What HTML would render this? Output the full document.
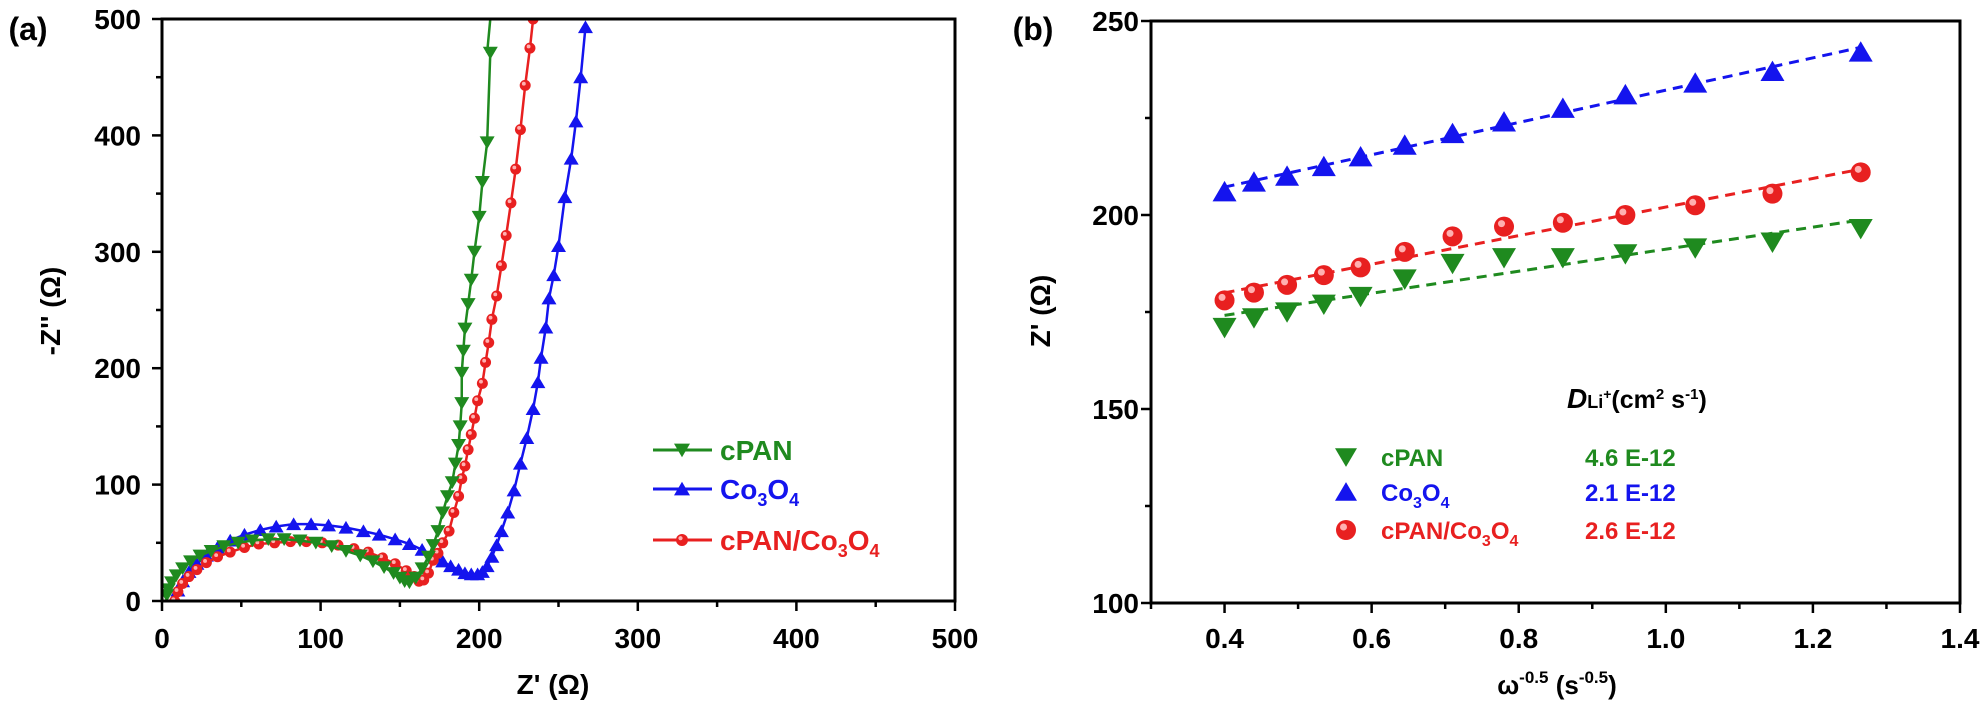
<!DOCTYPE html>
<html><head><meta charset="utf-8"><style>
body{margin:0;background:#fff;}
svg{display:block;font-family:"Liberation Sans",Arial,sans-serif;}
</style></head><body>
<svg id="fig" width="1987" height="717" viewBox="0 0 1987 717" xmlns="http://www.w3.org/2000/svg"></svg>
<script>
// Panel (a) Nyquist data
const cpanZre=[3,4,6,9,13,18,24,31,39,48,57,67,77,87,97,107,116,125,133,140,146,150,153,156,160,164,168,171,174,177,180,183,185,187,188,189,189,190,191,193,195,197,200,202,205,207];
const cpanZim=[5,10,16,22,28,34,39,43,47,50,52,53,53,52,50,47,43,39,34,29,24,20,17,16,20,28,38,48,60,76,90,102,118,134,150,170,196,215,234,255,276,300,330,360,394,471];
const cpanTopZre=[205,207];
const cpanTopZim=[471,500];
const coZre=[8,10,13,17,22,28,35,43,52,62,72,83,94,105,116,127,137,147,156,164,171,177,182,187,191,195,199,202,205,208,211,214,218,222,226,230,234,237,239,242,244,247,250,254,258,261,264,267];
const coZim=[0,9,17,25,32,39,46,52,57,61,64,66,66,65,63,60,57,53,49,44,39,34,30,27,24,23,23,25,30,38,48,60,76,95,118,140,165,188,209,235,260,280,305,347,380,412,450,493];
const compZre=[8,10,13,17,22,28,35,43,52,61,71,81,91,101,111,121,130,139,147,154,159,162,165,168,171,174,177,181,184,187,189,191,193,195,197,199,202,204,206,208,211,214,217,220,223,226,229,232,234];
const compZim=[0,8,15,21,27,33,38,42,46,49,50,51,51,50,48,45,42,37,32,26,21,17,18,24,35,41,50,60,76,90,105,116,130,143,157,172,187,205,222,242,262,288,314,342,371,405,443,475,500];
const aXTicks=[0,100,200,300,400,500];
const aYTicks=[0,100,200,300,400,500];
// Panel (b) Warburg data
const omega=[0.40,0.44,0.485,0.535,0.585,0.645,0.71,0.78,0.86,0.945,1.04,1.145,1.265];
const coZ=[206,208.5,210,212.5,215,218,221,224,227.5,231,234,237,242];
const compZ=[178,180,182,184.5,186.5,190.5,194.5,197,198,200,202.5,205.5,211];
const cpanZ=[171,173.5,175,177,179,183.5,187.5,189,189,190,191.5,193,196.5];
const bXTicks=["0.4","0.6","0.8","1.0","1.2","1.4"];
const bYTicks=[100,150,200,250];
const diffLabels=["4.6 E-12","2.1 E-12","2.6 E-12"];

const G='#1f8a1f',B='#1414ee',R='#e82020';
const svg=document.getElementById('fig');
const NS='http://www.w3.org/2000/svg';
function mk(tag,attrs,parent){const e=document.createElementNS(NS,tag);for(const k in attrs)e.setAttribute(k,attrs[k]);(parent||svg).appendChild(e);return e;}
function txt(s,x,y,size,anchor,fill,parent){const t=mk('text',{x:x,y:y,'font-size':size,'font-weight':'bold','text-anchor':anchor||'middle',fill:fill||'#000'},parent);t.textContent=s;return t;}
function marker(kind,x,y,s,col,parent){
  if(kind==='down')return mk('polygon',{points:`${x-s},${y-s*0.8} ${x+s},${y-s*0.8} ${x},${y+s*0.9}`,fill:col},parent);
  if(kind==='up')return mk('polygon',{points:`${x-s},${y+s*0.8} ${x+s},${y+s*0.8} ${x},${y-s*0.9}`,fill:col},parent);
  const g=mk('g',{},parent);mk('circle',{cx:x,cy:y,r:s,fill:col},g);mk('circle',{cx:x-s*0.25,cy:y-s*0.3,r:s*0.35,fill:'#ffb0b0'},g);return g;
}

// ---------- Panel a ----------
const aL=162,aR=955,aT=19,aB=601;
const ax=v=>aL+(v-0)/500*(aR-aL), ay=v=>aB-(v-0)/500*(aB-aT);
const ga=mk('g',{});

const cp=mk('clipPath',{id:'clipA'},ga);
mk('rect',{x:aL,y:aT,width:aR-aL,height:aB-aT},cp);
const series=[[coZre,coZim,B,'up','co3o4-series'],[compZre,compZim,R,'circ','cpan-co3o4-series'],[cpanZre,cpanZim,G,'down','cpan-series']];
series.forEach(([xs,ys,col,k,name])=>{
  const g=mk('g',{'clip-path':'url(#clipA)'},ga);
  
  mk('polyline',{points:xs.map((v,i)=>ax(v)+','+ay(ys[i])).join(' '),fill:'none',stroke:col,'stroke-width':2.5},g);
  if(name==='cpan-series')mk('polyline',{points:cpanTopZre.map((v,i)=>ax(v)+','+ay(cpanTopZim[i])).join(' '),fill:'none',stroke:col,'stroke-width':2.5},g);
  xs.forEach((v,i)=>marker(k,ax(v),ay(ys[i]),k==='circ'?5.5:7.5,col,g));
});
mk('rect',{x:aL,y:aT,width:aR-aL,height:aB-aT,fill:'none',stroke:'#000','stroke-width':3},ga);
for(let v=0;v<=500;v+=50){const maj=v%100===0;
  mk('line',{x1:ax(v),x2:ax(v),y1:aB,y2:aB+(maj?10:6),stroke:'#000','stroke-width':2.5},ga);
  mk('line',{x1:aL,x2:aL-(maj?10:6),y1:ay(v),y2:ay(v),stroke:'#000','stroke-width':2.5},ga);}
aXTicks.forEach(v=>txt(String(v),ax(v),648,28,'middle','#000',ga));
aYTicks.forEach(v=>txt(String(v),141,ay(v)+10,28,'end','#000',ga));
const xa=txt("Z' (Ω)",553,694,28,'middle','#000',ga);
const ya=txt("-Z'' (Ω)",0,0,28,'middle','#000',ga);ya.setAttribute('transform','translate(60,311) rotate(-90)');
const la=txt('(a)',28,40,32,'middle','#000',ga);
const legA=mk('g',{},ga);
[['cPAN',G,'down',450],['Co3O4',B,'up',489],['cPAN/Co3O4',R,'circ',540]].forEach(([n,c,k,y])=>{
  mk('line',{x1:653,x2:712,y1:y,y2:y,stroke:c,'stroke-width':3},legA);
  marker(k,682,y,k==='circ'?6:8,c,legA);
  const t=mk('text',{x:720,y:y+10,'font-size':28,'font-weight':'bold',fill:c},legA);
  if(n==='cPAN')t.textContent='cPAN';
  else{const parts=n==='Co3O4'?['Co','3','O','4']:['cPAN/Co','3','O','4'];
    parts.forEach((p,i)=>{const s=mk('tspan',{},t);s.textContent=p;if(i%2){s.setAttribute('font-size',18);s.setAttribute('dy',7);}else if(i>0){s.setAttribute('dy',-7);}});}
});

// ---------- Panel b ----------
const bL=1151,bR=1960,bT=21,bB=603;
const bx=v=>bL+(v-0.3)/1.1*(bR-bL), by=v=>bB-(v-100)/150*(bB-bT);
const gb=mk('g',{});

function fit(xs,ys){const n=xs.length,mx=xs.reduce((a,b)=>a+b)/n,my=ys.reduce((a,b)=>a+b)/n;let sxy=0,sxx=0;xs.forEach((x,i)=>{sxy+=(x-mx)*(ys[i]-my);sxx+=(x-mx)**2;});const m=sxy/sxx;return [m,my-m*mx];}
[[coZ,B,'up','co3o4'],[compZ,R,'circ','cpan-co3o4'],[cpanZ,G,'down','cpan']].forEach(([ys,col,k,name])=>{
  const g=mk('g',{},gb);
  const [m,c]=fit(omega,ys);const x0=omega[0],x1=omega[omega.length-1];
  const ln=mk('line',{x1:bx(x0),y1:by(m*x0+c),x2:bx(x1),y2:by(m*x1+c),stroke:col,'stroke-width':3,'stroke-dasharray':'10,7'},g);
  
  omega.forEach((v,i)=>marker(k,bx(v),by(ys[i]),k==='circ'?10:12,col,g));
});
mk('rect',{x:bL,y:bT,width:bR-bL,height:bB-bT,fill:'none',stroke:'#000','stroke-width':3},gb);
for(let i=0;i<=11;i++){const v=0.3+i*0.1;const maj=i%2===1;
  mk('line',{x1:bx(v),x2:bx(v),y1:bB,y2:bB+(maj?10:6),stroke:'#000','stroke-width':2.5},gb);}
for(let v=100;v<=250;v+=25){const maj=v%50===0;
  mk('line',{x1:bL,x2:bL-(maj?10:6),y1:by(v),y2:by(v),stroke:'#000','stroke-width':2.5},gb);}
bXTicks.forEach(s=>txt(s,bx(parseFloat(s)),648,28,'middle','#000',gb));
bYTicks.forEach(v=>txt(String(v),1139,by(v)+10,28,'end','#000',gb));
const xb=mk('text',{x:1557,y:694,'font-size':26,'font-weight':'bold','text-anchor':'middle'},gb);

xb.innerHTML='ω<tspan font-size="17" dy="-11">-0.5</tspan><tspan dy="11"> (s</tspan><tspan font-size="17" dy="-11">-0.5</tspan><tspan dy="11">)</tspan>';
const yb=txt("Z' (Ω)",0,0,28,'middle','#000',gb);yb.setAttribute('transform','translate(1050,311) rotate(-90)');
const lb=txt('(b)',1033,40,32,'middle','#000',gb);
const legB=mk('g',{},gb);
const dh=mk('text',{x:1567,y:408,'font-size':25,'font-weight':'bold'},legB);
dh.innerHTML='<tspan font-style="italic" font-size="28">D</tspan><tspan font-size="18">Li</tspan><tspan font-size="14" dy="-9">+</tspan><tspan dy="9">(cm</tspan><tspan font-size="15" dy="-9">2</tspan><tspan dy="9"> s</tspan><tspan font-size="15" dy="-9">-1</tspan><tspan dy="9">)</tspan>';
[['cPAN',G,'down',457],['Co3O4',B,'up',492],['cPAN/Co3O4',R,'circ',530]].forEach(([n,c,k,y],i)=>{
  marker(k,1346,y,k==='circ'?10:11,c,legB);
  const t=mk('text',{x:1381,y:y+9,'font-size':24,'font-weight':'bold',fill:c},legB);
  if(n==='cPAN')t.textContent='cPAN';
  else{const parts=n==='Co3O4'?['Co','3','O','4']:['cPAN/Co','3','O','4'];
    parts.forEach((p,j)=>{const s=mk('tspan',{},t);s.textContent=p;if(j%2){s.setAttribute('font-size',16);s.setAttribute('dy',7);}else if(j>0){s.setAttribute('dy',-7);}});}
  txt(diffLabels[i],1585,y+9,24,'start',c,legB);
});
</script>
</body></html>
